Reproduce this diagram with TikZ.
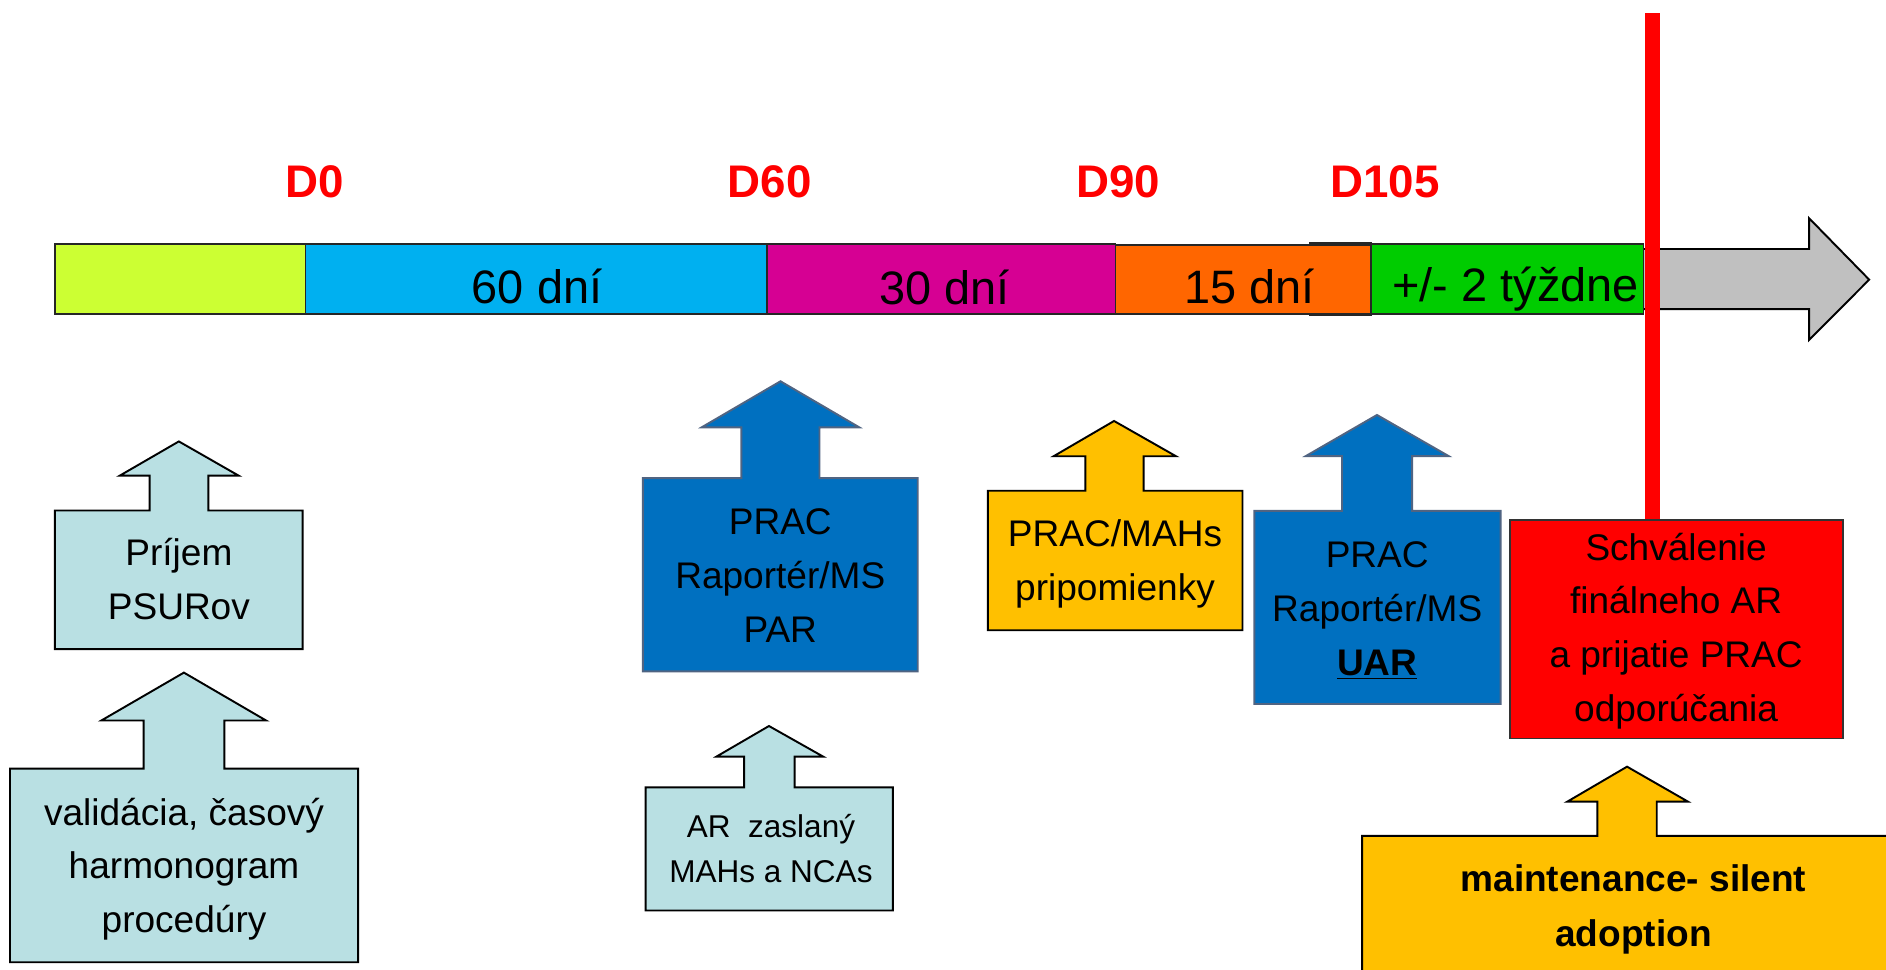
\documentclass[tikz,border=0pt]{standalone}
\usepackage{fontspec}
\setmainfont{Liberation Sans}
\definecolor{clime}{RGB}{204,255,51}
\definecolor{ccyan}{RGB}{0,176,240}
\definecolor{cmag}{RGB}{214,0,147}
\definecolor{corange}{RGB}{255,102,0}
\definecolor{cgreen}{RGB}{0,204,0}
\definecolor{cgray}{RGB}{192,192,192}
\definecolor{cteal}{RGB}{185,224,227}
\definecolor{cblue}{RGB}{0,112,192}
\definecolor{cblueline}{RGB}{80,100,130}
\definecolor{cgold}{RGB}{255,192,0}
\definecolor{cred}{RGB}{255,0,0}
\newcommand\boxlines[1]{\begin{tabular}[t]{@{}c@{}}#1\end{tabular}}
\tikzset{
  seg/.style={draw=black!85, line width=0.8pt},
  tealbox/.style={fill=cteal, draw=black, line width=0.8pt, line join=miter},
  bluebox/.style={fill=cblue, draw=cblueline, line width=0.8pt, line join=miter},
  goldbox/.style={fill=cgold, draw=black, line width=0.8pt, line join=miter},
  redbox/.style={fill=cred, draw=black!80, line width=0.8pt},
  daylabel/.style={text=cred, font=\bfseries\fontsize{19}{23}\selectfont, anchor=base, inner sep=0},
  bartext/.style={font=\fontsize{19.5}{23}\selectfont, anchor=base, inner sep=0},
  boxtext/.style={font=\fontsize{15.4}{22.4}\selectfont, anchor=base, inner sep=0},
  smalltext/.style={font=\fontsize{13.1}{18.7}\selectfont, anchor=base, inner sep=0},
}
\begin{document}
\begin{tikzpicture}[x=0.5pt,y=-0.5pt]
\useasboundingbox (0,0) rectangle (1568,806.4);
\clip (0,0) rectangle (1568,806.4);

% day labels
\node[daylabel] (d0) at (261.3,164) {D0};
\node[daylabel] (d60) at (640,164) {D60};
\node[daylabel] (d90) at (929.5,164) {D90};
\node[daylabel] (d105) at (1151.4,164) {D105};

% timeline bar
\draw[fill=cgray, draw=black, line width=0.8pt, line join=miter]
  (1360,207) -- (1504,207) -- (1504,181.4) -- (1554,232.5) -- (1504,282.7) -- (1504,257) -- (1360,257) -- cycle;
\draw[seg, fill=clime] (46,203) rectangle (254,261);
\draw[seg, fill=ccyan] (254,203) rectangle (637.5,261);
\draw[seg, fill=cmag] (637.5,203) rectangle (927.4,261);
\draw[seg, fill=corange] (1089,202) rectangle (1140,262);
\draw[seg, fill=corange] (927.4,203.5) rectangle (1140,261);
\draw[seg, fill=cgreen] (1140,203) rectangle (1366.4,261);
\node[bartext] (t60) at (446.5,252) {60 dní};
\node[bartext] (t30) at (785,253) {30 dní};
\node[bartext] (t15) at (1039,252.5) {15 dní};
\node[bartext] (t2) at (1260,250.5) {+/- 2 týždne};

% red vertical line
\coordinate (rtop) at (1374,11);
\coordinate (rbot) at (1374,433);
\draw[cred, line width=6.3pt] (rtop) -- (rbot);

% box 1: Prijem PSURov
\draw[tealbox] (45.6,424.4) -- (124.4,424.4) -- (124.4,395.5) -- (99.5,395.5) -- (148.7,367)
  -- (198.5,395.5) -- (173.3,395.5) -- (173.3,424.4) -- (251.6,424.4) -- (251.6,539.7) -- (45.6,539.7) -- cycle;
\node[boxtext] (b1) at (148.7,470.4) {\boxlines{Príjem\\PSURov}};

% box 2: validacia
\draw[tealbox] (8.3,639) -- (119.4,639) -- (119.4,599) -- (84.3,599) -- (152.9,559.2)
  -- (221.2,599) -- (186.6,599) -- (186.6,639) -- (297.8,639) -- (297.8,800) -- (8.3,800) -- cycle;
\node[boxtext] (b2) at (153,685.9) {\boxlines{validácia, časový\\harmonogram\\procedúry}};

% PAR box
\draw[bluebox] (534.4,397.5) -- (616.4,397.5) -- (616.4,355.3) -- (583.3,355.3) -- (648.9,317)
  -- (714.4,355.3) -- (681.3,355.3) -- (681.3,397.5) -- (763,397.5) -- (763,558.2) -- (534.4,558.2) -- cycle;
\node[boxtext] (bpar) at (648.7,444.2) {\boxlines{PRAC\\Raportér/MS\\PAR}};

% AR box
\draw[tealbox] (536.7,654.6) -- (618.7,654.6) -- (618.7,629) -- (595.7,629) -- (639.3,603.6)
  -- (684.3,629) -- (660.6,629) -- (660.6,654.6) -- (742.3,654.6) -- (742.3,757) -- (536.7,757) -- cycle;
\node[smalltext] (bar) at (641,696.5) {\boxlines{AR\ \ zaslaný\\MAHs a NCAs}};

% PRAC/MAHs box
\draw[goldbox] (821.3,408) -- (902.3,408) -- (902.3,379.3) -- (876,379.3) -- (926.2,350)
  -- (977.7,379.3) -- (950.8,379.3) -- (950.8,408) -- (1033,408) -- (1033,524) -- (821.3,524) -- cycle;
\node[boxtext] (bmah) at (927,454.4) {\boxlines{PRAC/MAHs\\pripomienky}};

% UAR box
\draw[bluebox] (1042.8,424.7) -- (1115.7,424.7) -- (1115.7,379.2) -- (1085.6,379.2) -- (1144.8,345)
  -- (1204.4,379.2) -- (1174,379.2) -- (1174,424.7) -- (1247.6,424.7) -- (1247.6,585.3) -- (1042.8,585.3) -- cycle;
\node[boxtext] (buar) at (1145,471.7) {\boxlines{PRAC\\Raportér/MS\\\underline{\textbf{UAR}}}};

% red box
\draw[redbox] (1255,432.3) rectangle (1532,614);
\node[boxtext] (bred) at (1393.5,465.6) {\boxlines{Schválenie\\finálneho AR\\a prijatie PRAC\\odporúčania}};

% maintenance box
\draw[goldbox] (1132.5,695) -- (1328,695) -- (1328,666.5) -- (1303,666.5) -- (1352.7,637.4)
  -- (1403.4,666.5) -- (1377.4,666.5) -- (1377.4,695) -- (1580,695) -- (1580,820) -- (1132.5,820) -- cycle;
\node[boxtext, font=\bfseries\fontsize{15.4}{22.7}\selectfont] (bmaint) at (1358,741.4) {\boxlines{maintenance- silent\\adoption}};
\end{tikzpicture}
\end{document}
